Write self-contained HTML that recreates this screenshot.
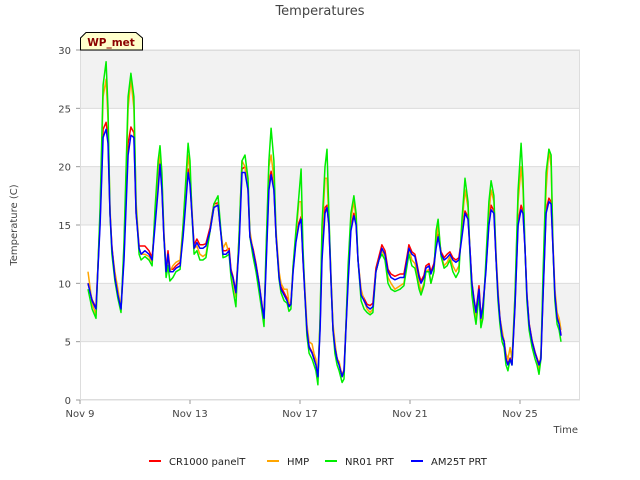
<!DOCTYPE html>
<html><head><meta charset="utf-8"><style>
body{margin:0;background:#fff;font-family:"DejaVu Sans","Liberation Sans",sans-serif}
svg{display:block;font-family:"DejaVu Sans","Liberation Sans",sans-serif}
</style></head><body>
<svg id="c" width="640" height="480">
<rect x="0" y="0" width="640" height="480" fill="#fff"/>
<text x="320" y="15" text-anchor="middle" font-size="13" fill="#444">Temperatures</text>
<text x="0" y="0" transform="translate(17,225) rotate(-90)" text-anchor="middle" font-size="10" fill="#444">Temperature (C)</text>
<text x="578" y="433" text-anchor="end" font-size="10" fill="#444">Time</text>
<g id="bands"></g><g id="grid"></g><g id="series"></g><g id="axes"></g>
<g>
<path d="M80.5,50 L80.5,38 L86,32.5 L136,32.5 L142.5,38 L142.5,50 Z" fill="#ffffcc" stroke="#000" stroke-width="1"/>
<text x="111" y="46" text-anchor="middle" font-size="10.5" font-weight="bold" fill="#8b0000">WP_met</text>
</g>
<g id="legend"></g>
</svg>
<script>
const days=[0.29,0.44,0.58,0.73,0.84,0.95,1.02,1.09,1.16,1.27,1.38,1.49,1.6,1.75,1.85,1.96,2.04,2.15,2.22,2.36,2.51,2.62,2.73,2.84,2.91,2.98,3.05,3.13,3.2,3.27,3.38,3.49,3.64,3.75,3.85,3.93,4.0,4.07,4.15,4.25,4.36,4.47,4.58,4.73,4.87,5.02,5.09,5.2,5.31,5.42,5.49,5.56,5.67,5.78,5.89,6.0,6.11,6.18,6.29,6.4,6.51,6.62,6.69,6.76,6.87,6.95,7.05,7.13,7.24,7.31,7.42,7.53,7.6,7.67,7.75,7.85,7.96,8.04,8.11,8.18,8.25,8.33,8.44,8.51,8.58,8.65,8.73,8.8,8.91,8.98,9.05,9.13,9.2,9.27,9.35,9.42,9.53,9.6,9.75,9.85,9.96,10.04,10.11,10.22,10.33,10.44,10.55,10.65,10.76,10.87,10.98,11.09,11.2,11.31,11.45,11.64,11.78,11.89,11.96,12.07,12.18,12.25,12.33,12.4,12.51,12.58,12.69,12.76,12.87,12.95,13.02,13.13,13.24,13.35,13.45,13.56,13.67,13.78,13.89,14.0,14.11,14.18,14.25,14.33,14.4,14.51,14.58,14.65,14.76,14.87,14.95,15.05,15.13,15.2,15.27,15.35,15.42,15.49,15.56,15.64,15.71,15.82,15.93,16.04,16.11,16.18,16.25,16.33,16.44,16.55,16.62,16.69,16.76,16.84,16.95,17.05,17.13,17.2,17.27,17.35,17.42,17.49];
const am25t=[10,8.5,7.8,15,22.5,23.2,22,16,13,10.5,9,7.8,12,21,22.7,22.5,16,13,12.5,12.8,12.5,12,15,18,20.2,18,14,11,12.5,11,11,11.3,11.5,14,17,19.5,18.5,16,13,13.5,13,13,13.2,14.5,16.5,16.7,15,12.5,12.5,12.8,11,10.5,9.2,13,19.5,19.5,18,14,12.8,11.5,10,8,7,11,18,19.3,18,14,10.5,9.5,9,8.5,8,8.2,11,13.5,15,15.5,12,9,6,4.5,4,3.5,3,2,6,12,16,16.5,15,10,6,4.5,3.5,3,2,2.5,10,14.5,15.8,15,12,9,8.5,8,7.8,8,11,12,13,12.5,11,10.5,10.3,10.5,10.5,12,13,12.5,12.3,11.5,10.5,10,10.5,11.3,11.5,10.8,11.5,13,14,12.5,12,12.2,12.5,12,11.8,12,14,16,15.5,13,10,8.5,7.5,9.5,7,8,11,15,16.3,16,12,9,7,5.5,5,3.5,3,3.5,3,8,15,16.3,16,13,9,6.5,5,4,3.5,3,3.5,9,16,17,16.8,13,9,7,6.5,5.5];
const cr1000=[10,8.6,7.9,15.5,23.2,23.8,22.5,16,13.2,10.6,9.1,7.9,12.5,22,23.4,22.9,16,13.2,13.2,13.2,12.8,12.2,15.5,18.5,20.5,18.2,14,11.2,12.8,11.2,11.2,11.5,11.8,14.3,17.5,19.8,18.7,16,13.3,13.8,13.3,13.3,13.4,14.8,16.8,16.9,15,12.8,12.8,13,11.2,10.6,9.3,13.5,19.8,20,18.2,14,13,11.7,10.1,8.1,7.1,11.5,18.5,19.6,18.2,14,10.7,9.7,9.2,8.7,8.1,8.4,11.2,13.7,15.2,15.7,12,9.1,6.1,4.6,4.1,3.6,3.1,2.1,6.5,12.5,16.5,16.7,15,10,6.1,4.6,3.6,3.1,2.1,2.6,10.5,14.8,16,15.2,12,9.2,8.7,8.2,8.1,8.3,11.3,12.3,13.3,12.8,11.2,10.8,10.6,10.8,10.8,12.3,13.3,12.7,12.5,11.7,10.7,10.2,10.7,11.5,11.7,11,11.7,13.3,14.2,12.7,12.2,12.5,12.7,12.2,12,12.2,14.3,16.2,15.7,13,10.1,8.6,7.6,9.8,7.1,8.1,11.2,15.2,16.7,16.2,12,9.1,7.1,5.6,5.1,3.6,3.1,3.6,3.1,8.2,15.3,16.7,16.2,13,9.1,6.6,5.1,4.1,3.6,3.1,3.6,9.2,16.3,17.3,17,13,9.1,7.1,6.6,5.6];
const hmp=[11,8.3,7.3,16,26,27.5,24,16.5,13,11,9.5,7.7,13,25,27.5,25,17,13,12.5,12.5,12.3,11.8,16,19.5,21,19,14.5,11,12,11,11.5,11.8,12,15,18.5,21,19.5,16.5,13,13.2,12.5,12.3,12.5,14.5,16.5,16.8,15,13,13.5,12.5,11,10.3,8.8,14,20.5,20,18,14.5,12.8,11.5,10,7.8,6.8,12,20,21,19,14.5,11,10,9.5,9.5,8.3,8.3,11.5,14,17,17,12.5,9.5,6.5,5,4.8,4,3.5,1.8,7,14,19,19,15.5,10.5,6.5,5,3.5,3.3,2,2.2,11,15.5,17,15.5,12,9.5,8.5,7.8,7.5,7.8,11,12,12.8,12.3,10.5,10,9.5,9.8,10,11.8,13,12,11.7,11,10,9.3,10,11,11.2,10,11,13.5,15,12.5,11.5,11.8,12.3,11.5,11,11.5,15,18,16.5,13,10,8,7,9,6.5,7.5,11.5,16,18,17,12.5,9.5,7,6,5,4,3.5,4.5,3.5,9,17,20,18,13,9,6.5,5,4,3.5,2.5,4,10,18,21.5,20,13.5,9.5,7.5,7,6];
const nr01=[9.5,7.8,7,16.5,27,29,25,16,12.5,10.2,8.7,7.5,13.5,26,28,26,16.5,12.5,12,12.3,12,11.5,16.5,20.5,21.8,19.5,14,10.5,11.5,10.2,10.5,11,11.2,15,19,22,20.5,16,12.5,12.8,12,12,12.2,14.5,16.8,17.5,15.5,12.2,12.3,12.5,10.5,9.5,8,14,20.5,21,19,14,12.3,11,9.3,7.5,6.3,12.5,20.5,23.3,20.5,14,10.3,9.2,8.5,8.3,7.6,7.8,11.5,14.5,17.5,19.8,13,9,5.5,4,3.5,3,2.5,1.3,7,15,20,21.5,16,10,6,4,3,2.5,1.5,1.8,11.5,16,17.5,16,12,8.5,7.8,7.5,7.3,7.5,11,12,12.5,12,10,9.5,9.3,9.5,9.8,11.5,12.5,11.5,11.3,10.5,9.5,9,9.8,11,11,10,11,14.5,15.5,12.3,11.3,11.5,12,11,10.5,11,15.5,19,17,12.5,9,7.5,6.5,9,6.2,7,12,17,18.8,17.5,12,8.5,6.5,5,4.5,3,2.5,3.5,3,9,18,22,19,13,8.5,6,4.5,3.5,3,2.2,3.5,11,19.5,21.5,21,13,8.5,6.5,6,5];
const yTicks=[0,5,10,15,20,25,30];
const xTickDays=[0,4,8,12,16];
const xTickLabels=["Nov 9","Nov 13","Nov 17","Nov 21","Nov 25"];
const seriesNames=["CR1000 panelT","HMP","NR01 PRT","AM25T PRT"];
const seriesColors=["#ff0000","#ffa500","#00ee00","#0000ff"];
const L=80,R=580,T=50,B=400;
const xs=d=>L+d*27.5;
const ys=v=>B-(v/30)*(B-T);
const NS="http://www.w3.org/2000/svg";
function mk(tag,parent,attrs){const e=document.createElementNS(NS,tag);for(const k in attrs)e.setAttribute(k,attrs[k]);parent.appendChild(e);return e;}
const bands=document.getElementById('bands'),grid=document.getElementById('grid'),axes=document.getElementById('axes'),ser=document.getElementById('series'),leg=document.getElementById('legend');
for(let i=0;i<yTicks.length-1;i++){
  if(i%2===1){const r=mk('rect',bands,{x:L,y:ys(yTicks[i+1]),width:R-L,height:ys(yTicks[i])-ys(yTicks[i+1]),fill:'#f2f2f2'});
  
  }
}
yTicks.forEach(v=>{
  const g=mk('line',grid,{x1:L,x2:R,y1:ys(v),y2:ys(v),stroke:'#dcdcdc','stroke-width':1});
  
  
  const t=mk('text',axes,{x:L-9,y:ys(v)+4,'text-anchor':'end','font-size':10,fill:'#444'});
  
  
  t.textContent=v;
  mk('line',axes,{x1:L-4,x2:L,y1:ys(v),y2:ys(v),stroke:'#999'});
});
const fr=mk('rect',grid,{x:L+0.5,y:T+0.5,width:R-L-1,height:B-T-1,fill:'none',stroke:'#ddd'});


xTickDays.forEach((d,i)=>{
  mk('line',axes,{x1:xs(d),x2:xs(d),y1:B,y2:B+4,stroke:'#999'});
  const t=mk('text',axes,{x:xs(d),y:B+17,'text-anchor':'middle','font-size':10,fill:'#444'});
  
  
  t.textContent=xTickLabels[i];
});
[cr1000,hmp,nr01,am25t].forEach((arr,si)=>{
  const pts=arr.map((v,i)=>xs(days[i]).toFixed(1)+','+ys(v).toFixed(1)).join(' ');
  const p=mk('polyline',ser,{points:pts,fill:'none',stroke:seriesColors[si],'stroke-width':1.5,'stroke-linejoin':'round'});
  
  
});
const legX=[149,267,325,411];
seriesNames.forEach((n,i)=>{
  const g=mk('g',leg,{});
  
  
  mk('line',g,{x1:legX[i],x2:legX[i]+12,y1:461,y2:461,stroke:seriesColors[i],'stroke-width':2});
  const t=mk('text',g,{x:legX[i]+20,y:465,'font-size':10,fill:'#222'});
  t.textContent=n;
});
</script>
</body></html>
